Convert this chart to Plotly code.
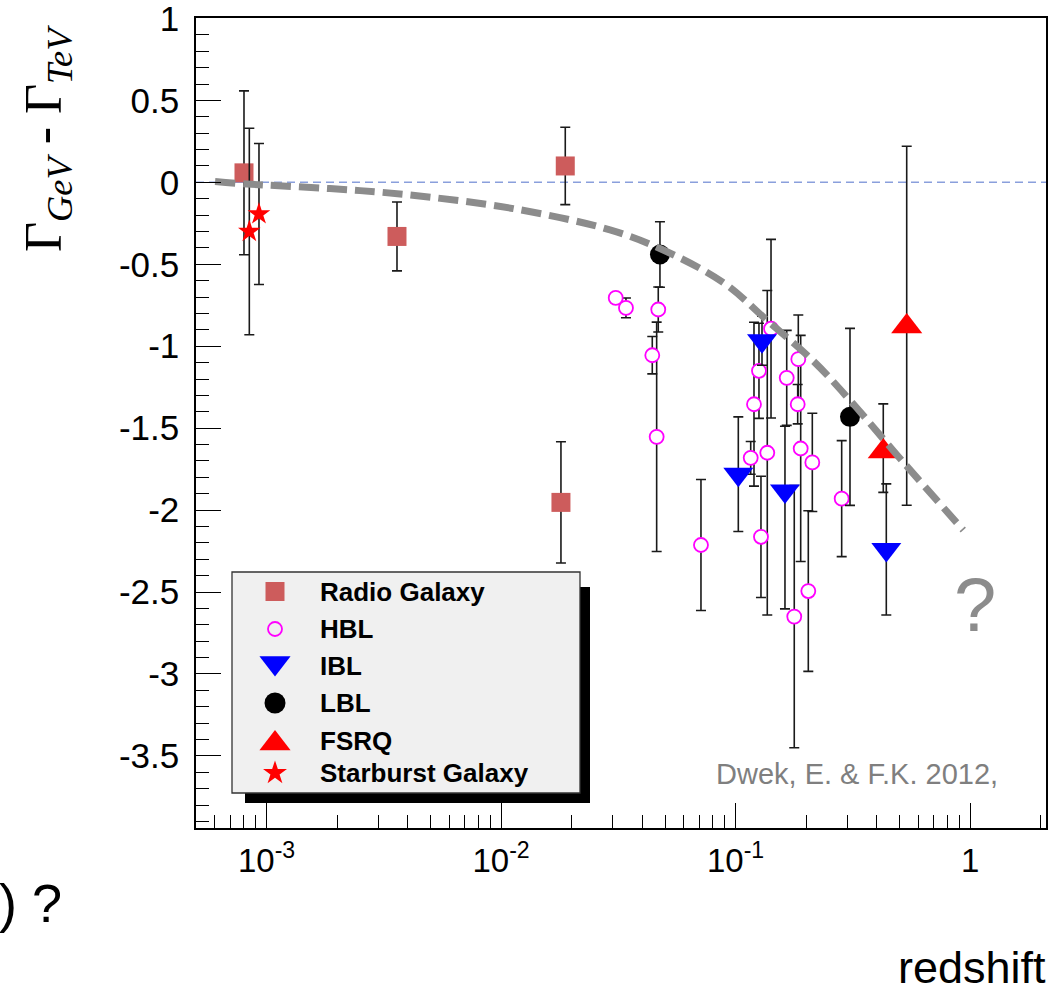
import plotly.graph_objects as go

# ---------------- data ----------------
rg_z = [0.000801, 0.003598, 0.01878, 0.01800]
rg_g = [0.058, -0.33, 0.10, -1.953]
rg_err = [0.50, 0.21, 0.236, 0.37]

hbl_z = [0.03082, 0.03408, 0.04680, 0.04413, 0.04607, 0.07118, 0.1160, 0.1198,
         0.1258, 0.1416, 0.1365, 0.1283, 0.1652, 0.1851, 0.1840, 0.1895,
         0.2124, 0.2042, 0.1779, 0.2834]
hbl_g = [-0.705, -0.766, -0.776, -1.055, -1.553, -2.213, -1.681, -1.354,
         -1.15, -0.893, -1.65, -2.163, -1.193, -1.079, -1.354, -1.624,
         -1.709, -2.494, -2.65, -1.93]
hbl_err = [0.03, 0.06, 0.137, 0.114, 0.70, 0.40, 0.10, 0.50,
           0.29, 0.545, 0.99, 0.37, 0.29, 0.27, 0.12, 0.69,
           0.30, 0.49, 0.80, 0.354]

ibl_z = [0.1027, 0.1296, 0.1624, 0.4392]
ibl_g = [-1.781, -0.966, -1.883, -2.24]
ibl_err_plus = [0.35, 0.15, 0.395, 0.40]
ibl_err_minus = [0.35, 0.15, 0.72, 0.40]

lbl_z = [0.04758, 0.3075]
lbl_g = [-0.44, -1.431]
lbl_err = [0.20, 0.54]

fsrq_z = [0.4264, 0.5367]
fsrq_g = [-1.642, -0.88]
fsrq_err_plus = [0.29, 1.10]
fsrq_err_minus = [0.25, 1.09]

sb_z = [0.000844, 0.000928]
sb_g = [-0.30, -0.193]
sb_err = [0.63, 0.43]

curve_z = [0.000603, 0.000822, 0.001862, 0.003957, 0.01127, 0.02913, 0.04758,
           0.08835, 0.1357, 0.2145, 0.3076, 0.5099, 0.9355]
curve_g = [0.005, -0.01, -0.038, -0.075, -0.16, -0.29, -0.404,
           -0.61, -0.84, -1.09, -1.33, -1.695, -2.122]

x_tickvals = [0.001, 0.01, 0.1, 1]
x_ticktext = ["10<sup>-3</sup>", "10<sup>-2</sup>", "10<sup>-1</sup>", "1"]
y_tickvals = [1, 0.5, 0, -0.5, -1, -1.5, -2, -2.5, -3, -3.5]
y_ticktext = ["1", "0.5", "0", "-0.5", "-1", "-1.5", "-2", "-2.5", "-3", "-3.5"]

legend_names = ["Radio Galaxy", "HBL", "IBL", "LBL", "FSRQ", "Starburst Galaxy"]

# ---------------- layout geometry (pixels) ----------------
W, H = 1055, 997
PX0, PX1, PY0, PY1 = 196, 1046, 18, 828

SANS = "Liberation Sans, Arial, Helvetica, sans-serif"
SERIF = "Liberation Serif, Times New Roman, serif"

fig = go.Figure()

def err(arr, arrminus=None):
    d = dict(type="data", array=arr, visible=True, color="#1a1a1a",
             thickness=1.6, width=5)
    if arrminus is not None:
        d["symmetric"] = False
        d["arrayminus"] = arrminus
    return d

fig.add_trace(go.Scatter(x=rg_z, y=rg_g, mode="markers", name="Radio Galaxy",
                         marker=dict(symbol="square", size=19, color="#cd5c5c"),
                         error_y=err(rg_err), showlegend=False))
fig.add_trace(go.Scatter(x=hbl_z, y=hbl_g, mode="markers", name="HBL",
                         marker=dict(symbol="circle", size=14, color="white",
                                     line=dict(color="#ff00ff", width=1.8)),
                         error_y=err(hbl_err), showlegend=False))
fig.add_trace(go.Scatter(x=ibl_z, y=ibl_g, mode="markers", name="IBL",
                         marker=dict(symbol="triangle-down", size=26, color="#0000ff"),
                         error_y=err(ibl_err_plus, ibl_err_minus), showlegend=False))
fig.add_trace(go.Scatter(x=lbl_z, y=lbl_g, mode="markers", name="LBL",
                         marker=dict(symbol="circle", size=20, color="black"),
                         error_y=err(lbl_err), showlegend=False))
fig.add_trace(go.Scatter(x=fsrq_z, y=fsrq_g, mode="markers", name="FSRQ",
                         marker=dict(symbol="triangle-up", size=27, color="#ff0000"),
                         error_y=err(fsrq_err_plus, fsrq_err_minus), showlegend=False))
fig.add_trace(go.Scatter(x=sb_z, y=sb_g, mode="markers", name="Starburst Galaxy",
                         marker=dict(symbol="star", size=17, color="#ff0000",
                                     line=dict(width=0)),
                         error_y=err(sb_err), showlegend=False))
fig.add_trace(go.Scatter(x=curve_z, y=curve_g, mode="lines",
                         line=dict(color="#8c8c8c", width=7, dash="20px,8px",
                                   shape="spline"),
                         hoverinfo="skip", showlegend=False))

# ---------------- hand-drawn legend on a full-page overlay axis ----------------
LEG_X0, LEG_X1, LEG_Y0, LEG_Y1 = 232, 580, 572, 793
row_y = [591.5, 629, 666, 703, 740.5, 773]
leg_symbols = [dict(symbol="square", size=19, color="#cd5c5c"),
               dict(symbol="circle", size=14, color="#f0f0f0",
                    line=dict(color="#ff00ff", width=1.8)),
               dict(symbol="triangle-down", size=27, color="#0000ff"),
               dict(symbol="circle", size=21, color="black"),
               dict(symbol="triangle-up", size=27, color="#ff0000"),
               dict(symbol="star", size=18, color="#ff0000", line=dict(width=0))]
for name, yy, sym in zip(legend_names, row_y, leg_symbols):
    yoff = 0
    if sym["symbol"] == "triangle-down":
        yoff = -3
    elif sym["symbol"] == "triangle-up":
        yoff = 3
    fig.add_trace(go.Scatter(x=[275], y=[yy + yoff], mode="markers", marker=sym,
                             xaxis="x2", yaxis="y2", showlegend=False,
                             hoverinfo="skip"))

shapes = [
    # zero reference line
    dict(type="line", xref="x domain", yref="y", x0=0, x1=1, y0=0, y1=0,
         line=dict(color="#8a9fdc", width=1.5, dash="8px,5px"), layer="below"),
    # legend shadow and box
    dict(type="rect", xref="x2", yref="y2", x0=245, x1=590, y0=587, y1=803,
         fillcolor="black", line=dict(width=0), layer="below"),
    dict(type="rect", xref="x2", yref="y2", x0=LEG_X0, x1=LEG_X1, y0=LEG_Y0, y1=LEG_Y1,
         fillcolor="#f0f0f0", line=dict(color="#333333", width=1.3), layer="below"),
]

annotations = []
for name, yy in zip(legend_names, row_y):
    annotations.append(dict(x=318, y=yy, xref="x2", yref="y2", text="<b>%s</b>" % name,
                            showarrow=False, xanchor="left", yanchor="middle",
                            font=dict(family=SANS, size=26, color="black")))

annotations += [
    dict(x=47, y=139, xref="x2", yref="y2", textangle=-90, showarrow=False,
         text="Γ<sub><i>GeV</i></sub> - Γ<sub><i>TeV</i></sub>",
         font=dict(family=SERIF, size=52, color="black"),
         xanchor="center", yanchor="middle"),
    dict(x=1048, y=967, xref="x2", yref="y2", text="redshift", showarrow=False,
         xanchor="right", yanchor="middle",
         font=dict(family=SANS, size=45, color="black")),
    dict(x=1000, y=774, xref="x2", yref="y2", text="Dwek, E. & F.K. 2012,",
         showarrow=False, xanchor="right", yanchor="middle",
         font=dict(family=SANS, size=29, color="#7f7f7f")),
    dict(x=975, y=604, xref="x2", yref="y2", text="?", showarrow=False,
         xanchor="center", yanchor="middle",
         font=dict(family=SANS, size=76, color="#8c8c8c")),
    dict(x=64, y=903, xref="x2", yref="y2", text=") ?", showarrow=False,
         xanchor="right", yanchor="middle",
         font=dict(family=SANS, size=54, color="black")),
]

minor_x = [m * 10 ** e for e in (-4, -3, -2, -1, 0) for m in range(2, 10)
           if 5e-4 <= m * 10 ** e <= 2.1]

fig.update_layout(
    width=W, height=H,
    margin=dict(l=0, r=0, t=0, b=0, autoexpand=False),
    paper_bgcolor="white", plot_bgcolor="rgba(0,0,0,0)",
    showlegend=False,
    shapes=shapes, annotations=annotations,
    xaxis=dict(type="log", range=[-3.30103, 0.3237],
               domain=[PX0 / W, PX1 / W], anchor="y", automargin=False,
               showgrid=False, zeroline=False,
               showline=True, linecolor="black", linewidth=1.5, mirror=True,
               ticks="inside", ticklen=25, tickwidth=1.3, tickcolor="black",
               tickmode="array", tickvals=x_tickvals, ticktext=x_ticktext,
               tickfont=dict(family=SANS, size=33, color="black"),
               ticklabelstandoff=3, ticklabeloverflow="allow",
               minor=dict(tickmode="array", tickvals=minor_x, ticks="inside",
                          ticklen=13, tickwidth=1.3, tickcolor="black",
                          showgrid=False)),
    yaxis=dict(range=[-3.94, 1.003],
               domain=[1 - PY1 / H, 1 - PY0 / H], anchor="x", automargin=False,
               showgrid=False, zeroline=False,
               showline=True, linecolor="black", linewidth=1.5, mirror=True,
               ticks="inside", ticklen=25, tickwidth=1.3, tickcolor="black",
               tickmode="array", tickvals=y_tickvals, ticktext=y_ticktext,
               tickfont=dict(family=SANS, size=35, color="black"),
               ticklabelstandoff=8, ticklabeloverflow="allow",
               minor=dict(dtick=0.1, ticks="inside", ticklen=13, tickwidth=1.3,
                          tickcolor="black", showgrid=False)),
    xaxis2=dict(domain=[0, 1], range=[0, W], visible=False, anchor="y2",
                fixedrange=True, automargin=False),
    yaxis2=dict(domain=[0, 1], range=[H, 0], visible=False, anchor="x2",
                fixedrange=True, automargin=False),
)

fig.write_html("out.html")
